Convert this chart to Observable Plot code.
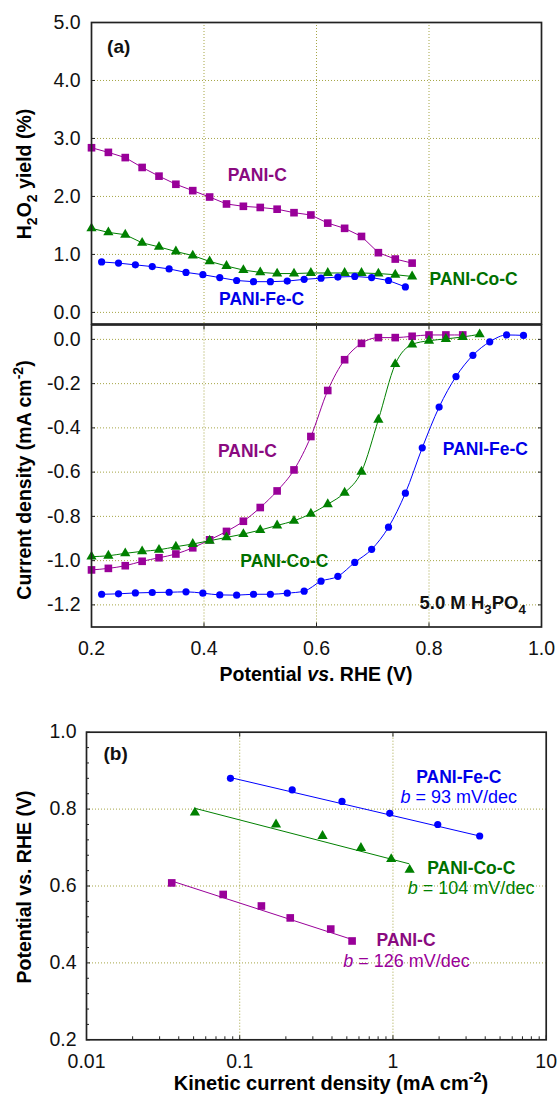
<!DOCTYPE html>
<html><head><meta charset="utf-8">
<script src="https://cdn.jsdelivr.net/npm/d3@7"></script>
<script src="https://cdn.jsdelivr.net/npm/@observablehq/plot@0.6"></script>
<style>
body{margin:0;background:#fff;}
#wrap{position:relative;width:557px;height:1095px;overflow:hidden;background:#fff;}
#wrap svg{position:absolute;left:0;overflow:visible;}
</style></head><body><div id="wrap"></div>
<script>
// ---------- data ----------
// (a) H2O2 yield vs potential
const yieldPot   = [0.20,0.23,0.26,0.29,0.32,0.35,0.38,0.41,0.44,0.47,0.50,0.53,0.56,0.59,0.62,0.65,0.68,0.71,0.74,0.77];
const yieldPotFe = [0.218,0.248,0.278,0.308,0.338,0.368,0.398,0.428,0.458,0.488,0.518,0.548,0.578,0.608,0.638,0.668,0.698,0.728,0.758];
const yieldC  = [2.84,2.76,2.67,2.50,2.35,2.21,2.10,1.99,1.87,1.83,1.81,1.78,1.72,1.68,1.54,1.45,1.31,1.03,0.92,0.85];
const yieldCo = [1.45,1.38,1.34,1.20,1.13,1.05,0.98,0.88,0.80,0.73,0.69,0.67,0.67,0.68,0.68,0.68,0.68,0.67,0.65,0.62];
const yieldFe = [0.87,0.85,0.82,0.79,0.75,0.69,0.65,0.60,0.55,0.53,0.53,0.54,0.57,0.59,0.61,0.62,0.60,0.55,0.44];
// (a) current density vs potential
const potC  = [0.20,0.23,0.26,0.29,0.32,0.35,0.38,0.41,0.44,0.47,0.50,0.53,0.56,0.59,0.62,0.65,0.68,0.71,0.74,0.77,0.80,0.83,0.86];
const curC  = [-1.042,-1.035,-1.023,-1.003,-0.987,-0.970,-0.942,-0.906,-0.868,-0.822,-0.760,-0.685,-0.590,-0.439,-0.231,-0.092,-0.018,0.008,0.008,0.014,0.020,0.020,0.020];
const potCo = [0.20,0.23,0.26,0.29,0.32,0.35,0.38,0.41,0.44,0.47,0.50,0.53,0.56,0.59,0.62,0.65,0.68,0.71,0.74,0.77,0.80,0.83,0.86,0.89];
const curCo = [-0.982,-0.978,-0.967,-0.958,-0.951,-0.937,-0.925,-0.910,-0.895,-0.880,-0.862,-0.841,-0.820,-0.788,-0.745,-0.693,-0.598,-0.363,-0.112,-0.023,-0.006,0.002,0.011,0.023];
const potFe = [0.218,0.248,0.278,0.308,0.338,0.368,0.398,0.428,0.458,0.488,0.518,0.548,0.578,0.608,0.638,0.668,0.698,0.728,0.758,0.788,0.818,0.848,0.878,0.908,0.938,0.968];
const curFe = [-1.152,-1.150,-1.146,-1.144,-1.143,-1.141,-1.147,-1.155,-1.156,-1.152,-1.152,-1.147,-1.138,-1.093,-1.071,-1.008,-0.949,-0.849,-0.695,-0.490,-0.306,-0.168,-0.072,-0.011,0.020,0.018];
// (b) Tafel plot
const tafelJFe = [0.087,0.22,0.465,0.953,1.96,3.68];
const tafelEFe = [0.880,0.850,0.820,0.789,0.760,0.730];
const tafelJCo = [0.051,0.1725,0.347,0.618,0.974,1.285];
const tafelECo = [0.791,0.760,0.730,0.699,0.670,0.642];
const tafelJC  = [0.036,0.078,0.1385,0.2136,0.3926,0.541];
const tafelEC  = [0.608,0.578,0.548,0.517,0.488,0.457];
const fitJFe = [0.087,3.68],  fitEFe = [0.882,0.730];
const fitJCo = [0.051,1.27],  fitECo = [0.802,0.658];
const fitJC  = [0.036,0.54],  fitEC  = [0.613,0.461];
// ticks
const yTicksA = [0,1,2,3,4,5];
const gridYA = [0,1,2,3,4];
const xTicksAB = [0.2,0.4,0.6,0.8,1.0];
const gridXAB = [0.4,0.6,0.8];
const yTicksB = [0,-0.2,-0.4,-0.6,-0.8,-1.0,-1.2];
const xTicksC = [0.01,0.1,1,10];
const xMinorC = [0.02,0.03,0.04,0.05,0.06,0.07,0.08,0.09,0.2,0.3,0.4,0.5,0.6,0.7,0.8,0.9,2,3,4,5,6,7,8,9];
const yTicksC = [0.2,0.4,0.6,0.8,1.0];
const yMinorC = [0.24,0.28,0.32,0.36,0.44,0.48,0.52,0.56,0.64,0.68,0.72,0.76,0.84,0.88,0.92,0.96];
const gridXC = [0.1,1];
const gridYC = [0.4,0.6,0.8];
// labels
const names = ["PANI-C","PANI-Co-C","PANI-Fe-C"];
const slopes = ["126","104","93"];

// ---------- style ----------
const FONT = '"Liberation Sans", Arial, Helvetica, sans-serif';
const cC = "#990099", cCo = "#008000", cFe = "#0000ff";
const lC = "#8a0a80", lCo = "#007000", lFe = "#0000e8";
const gridStyle = {stroke: "#a5a545", strokeOpacity: 1, strokeWidth: 1, strokeDasharray: "1,2"};
const axisCol = "#222";
const TS = 4; // tick size
const RS = 4.3, RT = 3.8, RC = 3.6; // marker radii
const tbl = (xs, ys) => xs.map((x, i) => ({x, y: ys[i]}));
const baseStyle = {fontFamily: FONT, fontSize: "19.5px", color: "#111", background: "transparent", overflow: "visible"};
const wrap = document.getElementById("wrap");

function inTicksY(ticks, anchor, size = TS) {
  return Plot.axisY(ticks, {anchor, tickSize: size, dx: anchor === "left" ? size : -size, fill: "none", label: null, stroke: axisCol});
}
function inTicksX(ticks, anchor, size = TS) {
  return Plot.axisX(ticks, {anchor, tickSize: size, dy: anchor === "bottom" ? -size : size, fill: "none", label: null, stroke: axisCol});
}
function richText(svg, x, y, parts, {size = 19, weight = "bold", fill = "#000", anchor = "middle", rotate = 0} = {}) {
  const t = d3.select(svg).append("text")
    .attr("transform", `translate(${x},${y}) rotate(${rotate})`)
    .attr("text-anchor", anchor).attr("font-size", size).attr("font-weight", weight)
    .attr("font-family", FONT).attr("fill", fill);
  let shift = 0;
  for (const p of parts) {
    const s = t.append("tspan").text(p.t);
    const target = p.sub ? size * 0.3 : p.sup ? -size * 0.42 : 0;
    if (target !== shift) { s.attr("dy", target - shift); shift = target; }
    if (p.sub || p.sup) s.attr("font-size", size * 0.72);
    if (p.italic) s.attr("font-style", "italic");
    if (p.weight) s.attr("font-weight", p.weight);
  }
}

// ---------- panel (a) top: H2O2 yield ----------
const pA = Plot.plot({
  width: 557, height: 324, marginLeft: 91, marginRight: 16, marginTop: 22, marginBottom: 0.5,
  style: baseStyle,
  x: {domain: [0.2, 1.0], axis: null},
  y: {domain: [-0.2, 5.0], axis: null},
  marks: [
    Plot.gridX(gridXAB, gridStyle),
    Plot.gridY(gridYA, gridStyle),
    Plot.line(tbl(yieldPot, yieldC), {x: "x", y: "y", stroke: cC, strokeWidth: 1}),
    Plot.line(tbl(yieldPot, yieldCo), {x: "x", y: "y", stroke: cCo, strokeWidth: 1}),
    Plot.line(tbl(yieldPotFe, yieldFe), {x: "x", y: "y", stroke: cFe, strokeWidth: 1}),
    Plot.dot(tbl(yieldPot, yieldC), {x: "x", y: "y", symbol: "square", r: RS, fill: cC}),
    Plot.dot(tbl(yieldPot, yieldCo), {x: "x", y: "y", symbol: "triangle", r: RT, fill: cCo}),
    Plot.dot(tbl(yieldPotFe, yieldFe), {x: "x", y: "y", symbol: "circle", r: RC, fill: cFe}),
    Plot.frame({stroke: axisCol, strokeWidth: 1.7}),
    inTicksY(yTicksA, "left"),
    Plot.axisY(yTicksA, {anchor: "left", tickSize: 0, tickPadding: 11, tickFormat: d => d.toFixed(1), label: null}),
    Plot.text([{x: 0.4423, y: 2.362, t: names[0]}], {x: "x", y: "y", text: "t", fill: lC, fontWeight: "bold", fontSize: 17.5, textAnchor: "start"}),
    Plot.text([{x: 0.801, y: 0.563, t: names[1]}], {x: "x", y: "y", text: "t", fill: lCo, fontWeight: "bold", fontSize: 17.5, textAnchor: "start"}),
    Plot.text([{x: 0.4267, y: 0.224, t: names[2]}], {x: "x", y: "y", text: "t", fill: lFe, fontWeight: "bold", fontSize: 17.5, textAnchor: "start"}),
    Plot.text([{x: 0.2277, y: 4.574, t: "(a)"}], {x: "x", y: "y", text: "t", fill: "#111", fontWeight: "bold", fontSize: 19, textAnchor: "start"})
  ]
});
pA.style.top = "0px";
wrap.appendChild(pA);
richText(pA, 31, 174, [{t: "H"}, {t: "2", sub: true}, {t: "O"}, {t: "2", sub: true}, {t: " yield (%)"}], {rotate: -90, size: 19.5});

// ---------- panel (a) bottom: current density ----------
const pB = Plot.plot({
  width: 557, height: 360, marginLeft: 91, marginRight: 16, marginTop: 0.5, marginBottom: 57.5,
  style: baseStyle,
  x: {domain: [0.2, 1.0], axis: null},
  y: {domain: [-1.3, 0.065], axis: null},
  marks: [
    Plot.gridX(gridXAB, gridStyle),
    Plot.gridY(yTicksB, gridStyle),
    Plot.line(tbl(potC, curC), {x: "x", y: "y", stroke: cC, strokeWidth: 1, curve: "monotone-x"}),
    Plot.line(tbl(potCo, curCo), {x: "x", y: "y", stroke: cCo, strokeWidth: 1, curve: "monotone-x"}),
    Plot.line(tbl(potFe, curFe), {x: "x", y: "y", stroke: cFe, strokeWidth: 1, curve: "monotone-x"}),
    Plot.dot(tbl(potC, curC), {x: "x", y: "y", symbol: "square", r: RS, fill: cC}),
    Plot.dot(tbl(potCo, curCo), {x: "x", y: "y", symbol: "triangle", r: RT, fill: cCo}),
    Plot.dot(tbl(potFe, curFe), {x: "x", y: "y", symbol: "circle", r: RC, fill: cFe}),
    Plot.frame({stroke: axisCol, strokeWidth: 1.7}),
    inTicksY(yTicksB, "left"),
    inTicksY(yTicksB, "right"),
    inTicksX(gridXAB, "bottom"),
    inTicksX(gridXAB, "top"),
    Plot.axisY(yTicksB, {anchor: "left", tickSize: 0, tickPadding: 11, tickFormat: d => d.toFixed(1), label: null}),
    Plot.axisX(xTicksAB, {anchor: "bottom", tickSize: 0, tickPadding: 14, tickFormat: d => d.toFixed(1), label: null}),
    Plot.text([{x: 0.4247, y: -0.507, t: names[0]}], {x: "x", y: "y", text: "t", fill: lC, fontWeight: "bold", fontSize: 17.5, textAnchor: "start"}),
    Plot.text([{x: 0.4645, y: -1.004, t: names[1]}], {x: "x", y: "y", text: "t", fill: lCo, fontWeight: "bold", fontSize: 17.5, textAnchor: "start"}),
    Plot.text([{x: 0.8245, y: -0.496, t: names[2]}], {x: "x", y: "y", text: "t", fill: lFe, fontWeight: "bold", fontSize: 17.5, textAnchor: "start"})
  ]
});
pB.style.top = "324px";
wrap.appendChild(pB);
{
  const sx = pB.scale("x"), sy = pB.scale("y");
  richText(pB, sx.apply(0.973), sy.apply(-1.19) + 6.5,
    [{t: "5.0 M H"}, {t: "3", sub: true}, {t: "PO"}, {t: "4", sub: true}], {anchor: "end", size: 18.5, fill: "#111"});
  richText(pB, 31, 156, [{t: "Current density (mA cm"}, {t: "-2", sup: true}, {t: ")"}], {rotate: -90, size: 19.5});
  richText(pB, 316, 357, [{t: "Potential "}, {t: "vs", italic: true}, {t: ". RHE (V)"}], {size: 19.5});
}

// ---------- panel (b): Tafel ----------
const pC = Plot.plot({
  width: 557, height: 405, marginLeft: 86, marginRight: 11.3, marginTop: 41.7, marginBottom: 55.7,
  style: baseStyle,
  x: {type: "log", domain: [0.01, 10], axis: null},
  y: {domain: [0.2, 1.0], axis: null},
  marks: [
    Plot.gridX(gridXC, gridStyle),
    Plot.gridY(gridYC, gridStyle),
    Plot.line(tbl(fitJFe, fitEFe), {x: "x", y: "y", stroke: cFe, strokeWidth: 1}),
    Plot.line(tbl(fitJCo, fitECo), {x: "x", y: "y", stroke: cCo, strokeWidth: 1}),
    Plot.line(tbl(fitJC, fitEC), {x: "x", y: "y", stroke: cC, strokeWidth: 1}),
    Plot.dot(tbl(tafelJC, tafelEC), {x: "x", y: "y", symbol: "square", r: RS, fill: cC}),
    Plot.dot(tbl(tafelJCo, tafelECo), {x: "x", y: "y", symbol: "triangle", r: RT, fill: cCo}),
    Plot.dot(tbl(tafelJFe, tafelEFe), {x: "x", y: "y", symbol: "circle", r: RC, fill: cFe}),
    Plot.frame({stroke: axisCol, strokeWidth: 1.7}),
    inTicksY(yTicksC, "left"),
    inTicksY(yMinorC, "left", 3),
    inTicksX(xTicksC, "bottom"),
    inTicksX(xMinorC, "bottom", 3),
    inTicksX(gridXC, "top"),
    Plot.axisY(yTicksC, {anchor: "left", tickSize: 0, tickPadding: 10, tickFormat: d => d.toFixed(1), label: null}),
    Plot.axisX(xTicksC, {anchor: "bottom", tickSize: 0, tickPadding: 14.5, tickFormat: d => String(d), label: null}),
    Plot.text([{x: 0.0129, y: 0.9438, t: "(b)"}], {x: "x", y: "y", text: "t", fill: "#111", fontWeight: "bold", fontSize: 19, textAnchor: "start"}),
    Plot.text([{x: 2.69, y: 0.8814, t: names[2]}], {x: "x", y: "y", text: "t", fill: lFe, fontWeight: "bold", fontSize: 17.5}),
    Plot.text([{x: 3.24, y: 0.6463, t: names[1]}], {x: "x", y: "y", text: "t", fill: lCo, fontWeight: "bold", fontSize: 17.5}),
    Plot.text([{x: 1.218, y: 0.4583, t: names[0]}], {x: "x", y: "y", text: "t", fill: lC, fontWeight: "bold", fontSize: 17.5})
  ]
});
pC.style.top = "690px";
wrap.appendChild(pC);
{
  const sx = pC.scale("x"), sy = pC.scale("y");
  const bl = [[2.71, 0.8294, slopes[2], cFe], [3.26, 0.5943, slopes[1], cCo], [1.234, 0.4036, slopes[0], cC]];
  for (const [j, e, s, col] of bl) {
    richText(pC, sx.apply(j), sy.apply(e) + 6, [{t: "b", italic: true}, {t: " = " + s + " mV/dec"}], {weight: "normal", size: 18, fill: col});
  }
  richText(pC, 31, 197, [{t: "Potential vs. RHE (V)"}], {rotate: -90, size: 19.5});
  richText(pC, 331, 400, [{t: "Kinetic current density (mA cm"}, {t: "-2", sup: true}, {t: ")"}], {size: 20});
}
</script>
</body></html>
